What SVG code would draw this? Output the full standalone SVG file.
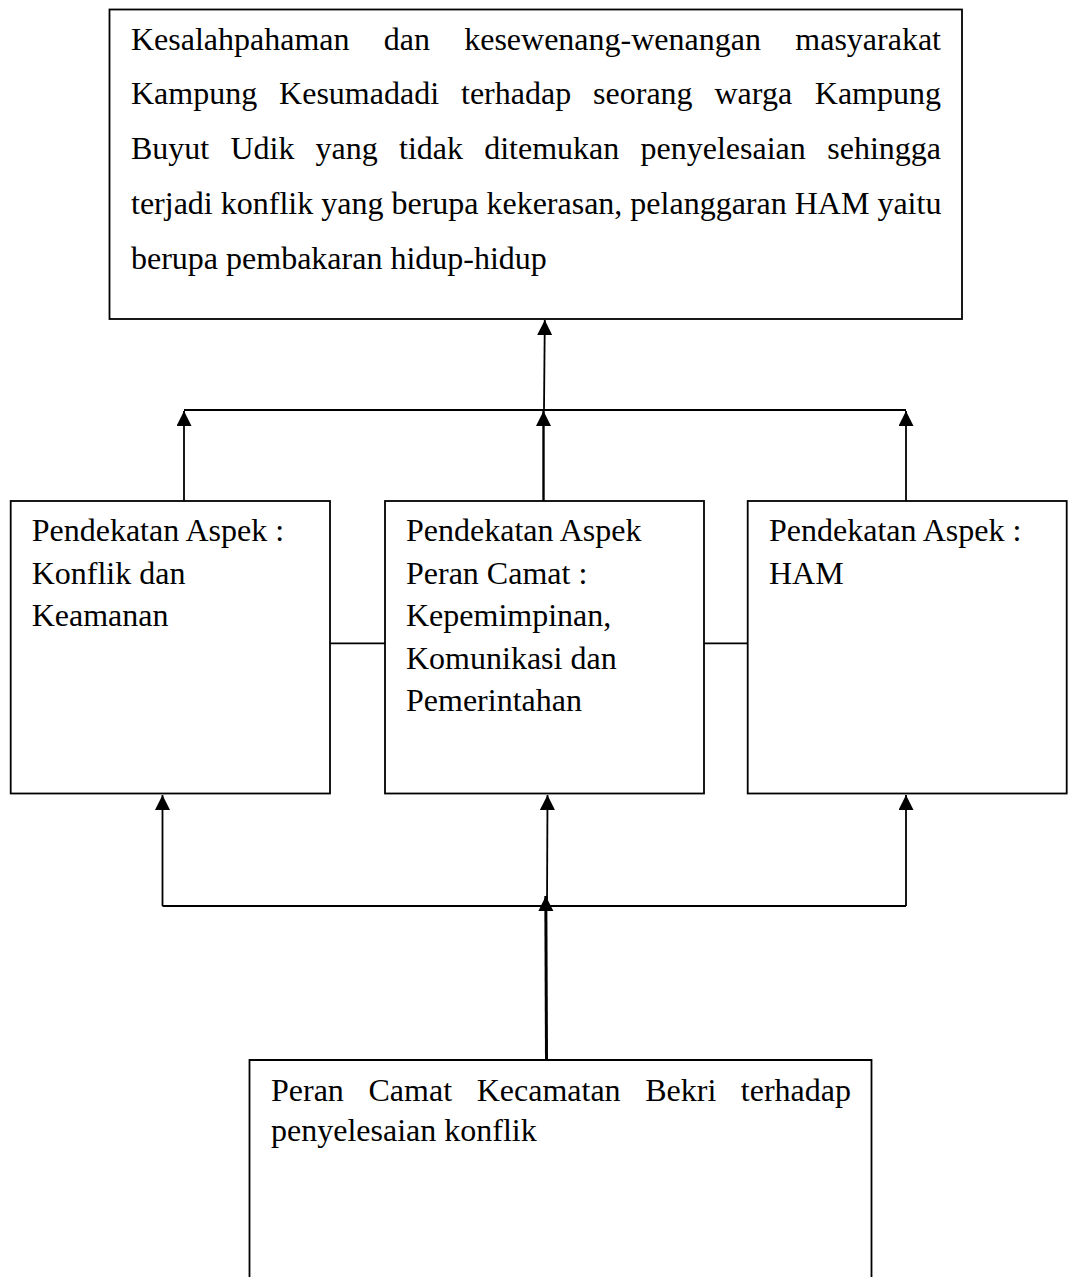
<svg xmlns="http://www.w3.org/2000/svg" width="1070" height="1277" viewBox="0 0 1070 1277">
<style>
.box{fill:#fff;stroke:#000;stroke-width:1.8}
.t{font-family:"Liberation Serif","Times New Roman",serif;font-size:32px;fill:#000}
.c{fill:none;stroke:#000;stroke-width:1.8}
.thick{stroke-width:3}
</style>
<defs>
<marker id="ah" markerUnits="userSpaceOnUse" markerWidth="16" markerHeight="16" refX="15" refY="7.5" orient="auto">
<path d="M0,0 L15,7.5 L0,15 z" fill="#000"/>
</marker>
</defs>
<rect width="1070" height="1277" fill="#fff"/>
<g id="top">
<rect class="box" x="109.5" y="9.5" width="852.5" height="309.5"/>
<text class="t" y="49.5"><tspan x="131">Kesalahpahaman</tspan><tspan x="383.8">dan</tspan><tspan x="464.2">kesewenang-wenangan</tspan><tspan x="941" text-anchor="end">masyarakat</tspan></text>
<text class="t" y="104.3"><tspan x="131">Kampung</tspan><tspan x="279.1">Kesumadadi</tspan><tspan x="461">terhadap</tspan><tspan x="593.1">seorang</tspan><tspan x="714.5">warga</tspan><tspan x="941" text-anchor="end">Kampung</tspan></text>
<text class="t" y="159.1"><tspan x="131">Buyut</tspan><tspan x="230.4">Udik</tspan><tspan x="315.6">yang</tspan><tspan x="399">tidak</tspan><tspan x="484.2">ditemukan</tspan><tspan x="640.5">penyelesaian</tspan><tspan x="941" text-anchor="end">sehingga</tspan></text>
<text class="t" x="131" y="213.9">terjadi konflik yang berupa kekerasan, pelanggaran HAM yaitu</text>
<text class="t" x="131" y="268.7">berupa pembakaran hidup-hidup</text>
</g>
<g id="left">
<rect class="box" x="10.7" y="501" width="319.3" height="292.5"/>
<text class="t" x="31.7" y="541">Pendekatan Aspek :</text>
<text class="t" x="31.7" y="583.5">Konflik dan</text>
<text class="t" x="31.7" y="626">Keamanan</text>
</g>
<g id="center">
<rect class="box" x="385" y="501" width="319" height="292.5"/>
<text class="t" x="406" y="541">Pendekatan Aspek</text>
<text class="t" x="406" y="583.5">Peran Camat :</text>
<text class="t" x="406" y="626">Kepemimpinan,</text>
<text class="t" x="406" y="668.5">Komunikasi dan</text>
<text class="t" x="406" y="711">Pemerintahan</text>
</g>
<g id="right">
<rect class="box" x="747.7" y="501" width="319" height="292.5"/>
<text class="t" x="769" y="541">Pendekatan Aspek :</text>
<text class="t" x="769" y="583.5">HAM</text>
</g>
<g id="bottom">
<path class="box" d="M249.5,1285 V1060 H871.5 V1285"/>
<text class="t" y="1101"><tspan x="271">Peran</tspan><tspan x="368.5">Camat</tspan><tspan x="476.7">Kecamatan</tspan><tspan x="645.2">Bekri</tspan><tspan x="851" text-anchor="end">terhadap</tspan></text>
<text class="t" x="271" y="1141">penyelesaian konflik</text>
</g>
<g id="connectors">
<path class="c" d="M544,410 L544.8,320" marker-end="url(#ah)"/>
<path class="c" d="M184,410 H906"/>
<path class="c" d="M184,501 V411" marker-end="url(#ah)"/>
<path class="c" style="stroke-width:2.4" d="M543.5,501 V411" marker-end="url(#ah)"/>
<path class="c" d="M906,501 V411" marker-end="url(#ah)"/>
<path class="c" d="M330,643.3 H385"/>
<path class="c" d="M704,643.3 H747.7"/>
<path class="c" d="M162.5,906 H906"/>
<path class="c" d="M162.5,906 V795" marker-end="url(#ah)"/>
<path class="c" d="M906,906 V795" marker-end="url(#ah)"/>
<path class="c" d="M547,906 L547.5,795" marker-end="url(#ah)"/>
<path class="c thick" d="M546.5,1060 L545.8,896" marker-end="url(#ah)"/>
</g>
</svg>
